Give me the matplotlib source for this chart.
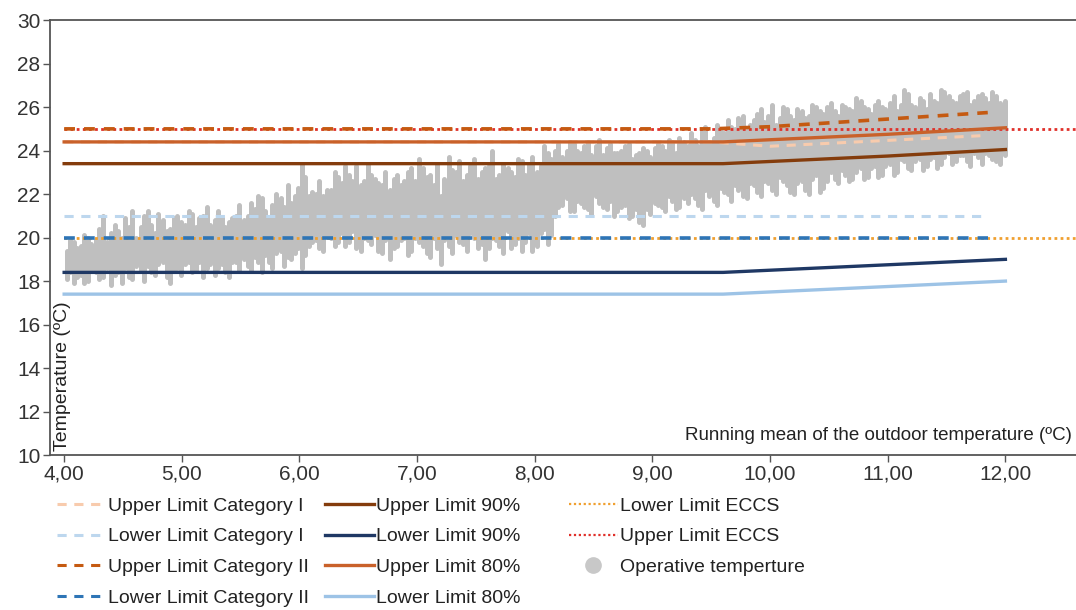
import matplotlib
matplotlib.use("Agg")
import matplotlib.pyplot as plt
from matplotlib.lines import Line2D

plt.rcParams['font.family'] = ['Liberation Sans', 'DejaVu Sans']

# operative temperature: vertical streaks of hourly points (running mean x, daily min, daily max)
op_x = [4.02, 4.08, 4.14, 4.20, 4.27, 4.33, 4.40, 4.46, 4.52, 4.58, 4.65, 4.71, 4.77, 4.84, 4.90,
        4.96, 5.03, 5.09, 5.15, 5.21, 5.28, 5.34, 5.40, 5.46, 5.53, 5.59, 5.65, 5.71, 5.77, 5.84,
        5.90, 5.96, 6.02, 6.08, 6.14, 6.20, 6.27, 6.33, 6.39, 6.45, 6.52, 6.58, 6.64, 6.70, 6.77,
        6.83, 6.89, 6.95, 7.02, 7.08, 7.14, 7.20, 7.27, 7.33, 7.39, 7.45, 7.52, 7.58, 7.64, 7.70,
        7.77, 7.83, 7.89, 7.95, 8.02, 8.08, 8.14, 8.20, 8.27, 8.33, 8.39, 8.45, 8.52, 8.58, 8.64,
        8.70, 8.77, 8.83, 8.89, 8.95, 9.02, 9.08, 9.14, 9.20, 9.27, 9.33, 9.39, 9.45, 9.52, 9.58,
        9.64, 9.70, 9.77, 9.83, 9.89, 9.95, 10.02, 10.08, 10.14, 10.20, 10.27, 10.33, 10.39, 10.45,
        10.52, 10.58, 10.64, 10.70, 10.77, 10.83, 10.89, 10.95, 11.02, 11.08, 11.14, 11.20, 11.27,
        11.33, 11.39, 11.45, 11.52, 11.58, 11.64, 11.70, 11.77, 11.83, 11.89, 11.95, 12.00,
        4.05, 4.11, 4.17, 4.23, 4.30, 4.36, 4.43, 4.49, 4.55, 4.61, 4.68, 4.74, 4.80, 4.87, 4.93,
        4.99, 5.06, 5.12, 5.18, 5.24, 5.31, 5.37, 5.43, 5.49, 5.56, 5.62, 5.68, 5.74, 5.80, 5.87,
        5.93, 5.99, 6.05, 6.11, 6.17, 6.23, 6.30, 6.36, 6.42, 6.48, 6.55, 6.61, 6.67, 6.73, 6.80,
        6.86, 6.92, 6.98, 7.05, 7.11, 7.17, 7.23, 7.30, 7.36, 7.42, 7.48, 7.55, 7.61, 7.67, 7.73,
        7.80, 7.86, 7.92, 7.98, 8.05, 8.11, 8.17, 8.23, 8.30, 8.36, 8.42, 8.48, 8.55, 8.61, 8.67,
        8.73, 8.80, 8.86, 8.92, 8.98, 9.05, 9.11, 9.17, 9.23, 9.30, 9.36, 9.42, 9.48, 9.55, 9.61,
        9.67, 9.73, 9.80, 9.86, 9.92, 9.98, 10.05, 10.11, 10.17, 10.23, 10.30, 10.36, 10.42, 10.48,
        10.55, 10.61, 10.67, 10.73, 10.80, 10.86, 10.92, 10.98, 11.05, 11.11, 11.17, 11.23, 11.30,
        11.36, 11.42, 11.48, 11.55, 11.61, 11.67, 11.73, 11.80, 11.86, 11.92, 11.98]
op_lo = [18.1, 17.9, 18.3, 18.0, 18.4, 18.2, 17.8, 18.4, 18.6, 18.1, 18.5, 18.7, 18.3, 18.9, 17.9,
         18.6, 18.8, 18.4, 18.9, 18.6, 18.3, 18.8, 18.2, 18.9, 19.0, 18.5, 18.9, 19.2, 18.6, 19.4,
         19.1, 19.3, 18.6, 19.6, 19.9, 19.4, 20.0, 19.8, 19.6, 20.3, 19.4, 19.9, 20.1, 19.3, 19.0,
         19.6, 20.0, 19.4, 19.8, 19.3, 20.0, 18.8, 19.6, 20.1, 19.7, 20.2, 19.5, 19.0, 20.0, 19.6,
         20.3, 19.7, 19.4, 20.2, 19.6, 20.4, 20.1, 21.4, 21.8, 21.2, 21.6, 21.3, 21.9, 21.4, 21.7,
         21.2, 21.5, 21.0, 20.7, 21.3, 21.6, 21.4, 21.9, 21.3, 21.8, 22.0, 21.5, 22.2, 21.7, 22.3,
         22.0, 22.4, 21.9, 22.5, 22.1, 22.6, 22.2, 22.8, 22.4, 22.0, 22.6, 22.0, 22.9, 22.3,
         23.0, 22.5, 22.9, 22.7, 23.2, 22.8, 23.3, 22.9, 23.4, 23.0, 23.5, 23.1, 23.6,
         23.3, 23.7, 23.4, 23.9, 23.5, 23.8, 23.3, 23.7, 23.9, 23.6, 23.4, 23.8,
         18.4, 18.2, 17.9, 18.5, 18.1, 18.6, 18.3, 17.9, 18.2, 18.7, 18.0, 18.4, 18.8, 18.2, 18.5,
         18.3, 18.9, 18.5, 18.2, 18.8, 18.6, 18.4, 18.9, 18.5, 18.7, 19.1, 18.4, 18.9, 19.3, 18.7,
         19.0, 19.5, 19.2, 19.8, 19.5, 20.1, 19.6, 20.2, 19.8, 19.5, 20.0, 19.7, 19.4, 19.9, 19.5,
         19.9, 19.2, 20.0, 19.6, 19.1, 19.5, 19.9, 19.3, 19.8, 19.4, 20.0, 19.7, 19.5, 19.9, 19.3,
         19.5, 20.0, 19.8, 19.4, 20.2, 19.7, 21.0, 21.5, 21.2, 21.7, 21.4, 21.1, 21.6, 21.3, 21.0,
         21.4, 20.9, 21.3, 20.6, 21.1, 21.5, 21.2, 21.7, 21.4, 21.6, 21.8, 21.3, 21.9, 21.5, 22.1,
         21.7, 22.2, 21.8, 22.4, 21.9, 22.5, 22.0, 22.6, 22.1, 22.5, 22.2, 22.7, 22.1, 22.6,
         22.7, 23.1, 22.6, 23.0, 22.7, 23.2, 22.8, 23.3, 22.9, 23.6, 23.2, 23.5, 23.1,
         23.6, 23.2, 23.7, 23.4, 23.8, 23.5, 23.9, 23.4, 23.8, 23.5, 23.9]
op_hi = [19.4, 19.8, 19.6, 20.0, 19.9, 21.0, 20.2, 20.3, 20.9, 21.2, 20.5, 21.2, 20.2, 20.8, 20.4,
         21.0, 20.6, 21.1, 20.9, 21.4, 20.8, 20.9, 20.7, 21.0, 20.8, 21.6, 21.9, 21.2, 21.5, 21.8,
         22.4, 21.9, 23.4, 21.9, 22.0, 21.9, 22.2, 22.8, 23.3, 22.6, 22.4, 23.4, 22.7, 22.4, 22.2,
         22.9, 22.6, 23.2, 23.6, 22.8, 22.4, 21.9, 23.7, 23.0, 22.6, 23.3, 22.7, 23.2, 24.0, 22.9,
         23.2, 22.8, 23.5, 23.4, 23.0, 24.2, 23.6, 24.3, 24.0, 24.3, 23.9, 24.4, 24.2, 23.8, 24.3,
         23.9, 24.2, 23.6, 23.9, 24.0, 24.1, 24.2, 24.5, 23.9, 24.4, 24.8, 24.2, 25.1, 24.6, 24.9,
         25.4, 25.0, 25.6, 25.2, 25.7, 25.3, 26.1, 25.5, 25.9, 25.4, 25.8, 25.6, 26.0, 25.7,
         26.2, 25.6, 26.0, 25.8, 26.3, 25.9, 26.1, 26.0, 26.2, 25.8, 26.8, 26.1, 26.4,
         25.9, 26.3, 26.8, 26.5, 26.2, 26.6, 26.1, 26.5, 26.4, 26.7, 26.2, 26.3,
         19.9, 19.5, 20.1, 19.7, 20.4, 19.8, 20.6, 20.0, 20.5, 20.0, 21.0, 20.6, 21.1, 20.3, 20.9,
         20.7, 21.2, 20.5, 21.0, 20.6, 21.2, 20.5, 20.9, 21.5, 21.0, 21.3, 21.8, 20.9, 22.0, 21.4,
         21.6, 22.3, 22.8, 22.1, 22.6, 22.2, 23.0, 22.5, 22.9, 23.3, 22.6, 22.9, 22.5, 23.0, 22.7,
         22.4, 23.0, 22.6, 23.2, 22.9, 23.4, 22.7, 23.1, 23.5, 22.9, 23.6, 23.0, 23.3, 22.7, 23.4,
         23.0, 23.6, 22.9, 23.7, 23.3, 23.9, 24.0, 23.7, 24.4, 24.0, 24.2, 23.8, 24.5, 24.1, 23.9,
         24.0, 24.3, 23.8, 24.1, 23.7, 24.3, 24.0, 24.4, 24.6, 24.2, 24.5, 24.9, 24.4, 25.2, 24.8,
         25.1, 25.5, 24.9, 25.4, 25.9, 25.6, 25.2, 26.0, 25.6, 25.9, 25.5, 26.1, 25.8, 26.0,
         25.8, 26.1, 25.9, 26.4, 26.0, 25.7, 26.3, 25.9, 26.5, 26.1, 26.6, 26.0, 26.3,
         26.6, 26.2, 26.7, 26.3, 26.5, 26.7, 26.3, 26.6, 26.2, 26.5, 26.0]

# comfort limits (running mean x, limit temperature)
adapt_x = [4.0, 9.6, 10.0, 11.0, 12.0]
upper90 = [23.4, 23.4, 23.5, 23.75, 24.05]
lower90 = [18.4, 18.4, 18.5, 18.75, 19.0]
upper80 = [24.4, 24.4, 24.5, 24.75, 25.05]
lower80 = [17.4, 17.4, 17.5, 17.75, 18.0]

cat_x = [4.0, 9.5, 10.0, 11.85]
upper_cat1 = [24.4, 24.4, 24.2, 24.7]
upper_cat2 = [25.0, 25.0, 25.1, 25.75]
lower_cat1 = [21.0, 21.0, 21.0, 21.0]
lower_cat2 = [20.0, 20.0, 20.0, 20.0]

eccs_x = [4.0, 12.6]
lower_eccs = [20.0, 20.0]
upper_eccs = [25.0, 25.0]

xticks = [4, 5, 6, 7, 8, 9, 10, 11, 12]
yticks = [10, 12, 14, 16, 18, 20, 22, 24, 26, 28, 30]

fig = plt.figure(figsize=(10.76, 6.10), dpi=100)
ax = fig.add_axes([0.0465, 0.254, 0.9535, 0.713])

ax.vlines(op_x, op_lo, op_hi, colors='#bfbfbf', linewidth=3.6, capstyle='round', zorder=1)

dash = (0, (3, 2.5))
dot = (0, (1, 1.2))
ax.plot(cat_x, upper_cat1, color='#f8cbad', lw=2.2, ls=dash, zorder=2)
ax.plot(cat_x, lower_cat1, color='#bdd7ee', lw=2.2, ls=dash, zorder=2)
ax.plot(eccs_x, lower_eccs, color='#f0a030', lw=2, ls=dot, zorder=3)
ax.plot(eccs_x, upper_eccs, color='#e0302a', lw=2, ls=dot, zorder=3)
ax.plot(cat_x, upper_cat2, color='#c55a11', lw=2.6, ls=dash, zorder=4)
ax.plot(cat_x, lower_cat2, color='#2e75b6', lw=2.6, ls=dash, zorder=4)
ax.plot(adapt_x, upper90, color='#843c0c', lw=2.4, zorder=5)
ax.plot(adapt_x, lower90, color='#1f3864', lw=2.4, zorder=5)
ax.plot(adapt_x, upper80, color='#c9612a', lw=2.4, zorder=5)
ax.plot(adapt_x, lower80, color='#9dc3e6', lw=2.4, zorder=5)

ax.set_xlim(3.88, 12.6)
ax.set_ylim(10, 30)
ax.set_xticks(xticks)
ax.set_xticklabels([f"{v:.2f}".replace('.', ',') for v in xticks])
ax.set_yticks(yticks)
ax.tick_params(colors='#555555', labelcolor='#333333', labelsize=15, length=5, width=1, pad=2)
for s in ['left', 'top', 'bottom']:
    ax.spines[s].set_color('#555555')
    ax.spines[s].set_linewidth(1.3)
ax.spines['right'].set_visible(False)

ax.text(0.004, 0.01, "Temperature (ºC)", rotation=90, transform=ax.transAxes,
        ha='left', va='bottom', fontsize=14, color='#222222')
ax.text(0.996, 0.025, "Running mean of the outdoor temperature (ºC)", transform=ax.transAxes,
        ha='right', va='bottom', fontsize=13.5, color='#222222')

labels = ["Upper Limit Category I", "Lower Limit Category I", "Upper Limit Category II",
          "Lower Limit Category II", "Upper Limit 90%", "Lower Limit 90%", "Upper Limit 80%",
          "Lower Limit 80%", "Lower Limit ECCS", "Upper Limit ECCS", "Operative temperture"]
handles = [
    Line2D([], [], color='#f8cbad', lw=2.2, ls=dash),
    Line2D([], [], color='#bdd7ee', lw=2.2, ls=dash),
    Line2D([], [], color='#c55a11', lw=2.2, ls=dash),
    Line2D([], [], color='#2e75b6', lw=2.2, ls=dash),
    Line2D([], [], color='#843c0c', lw=2.4),
    Line2D([], [], color='#1f3864', lw=2.4),
    Line2D([], [], color='#c9612a', lw=2.4),
    Line2D([], [], color='#9dc3e6', lw=2.4),
    Line2D([], [], color='#f0a030', lw=1.6, ls=dot),
    Line2D([], [], color='#e0302a', lw=1.6, ls=dot),
    Line2D([], [], color='#c8c8c8', marker='o', ls='none', markersize=11),
]
col_x = [57 / 1076, 325 / 1076, 569 / 1076]
groups = [(0, 4), (4, 8), (8, 11)]
for cx, (a, b) in zip(col_x, groups):
    fig.legend(handles[a:b], labels[a:b], loc='upper left', bbox_to_anchor=(cx, 1 - 497 / 610),
               frameon=False, fontsize=14, handlelength=2.5, handletextpad=0.1,
               labelspacing=0.68, borderaxespad=0, borderpad=0, labelcolor='#222222')

fig.savefig("out.png", dpi=100, facecolor='white')
